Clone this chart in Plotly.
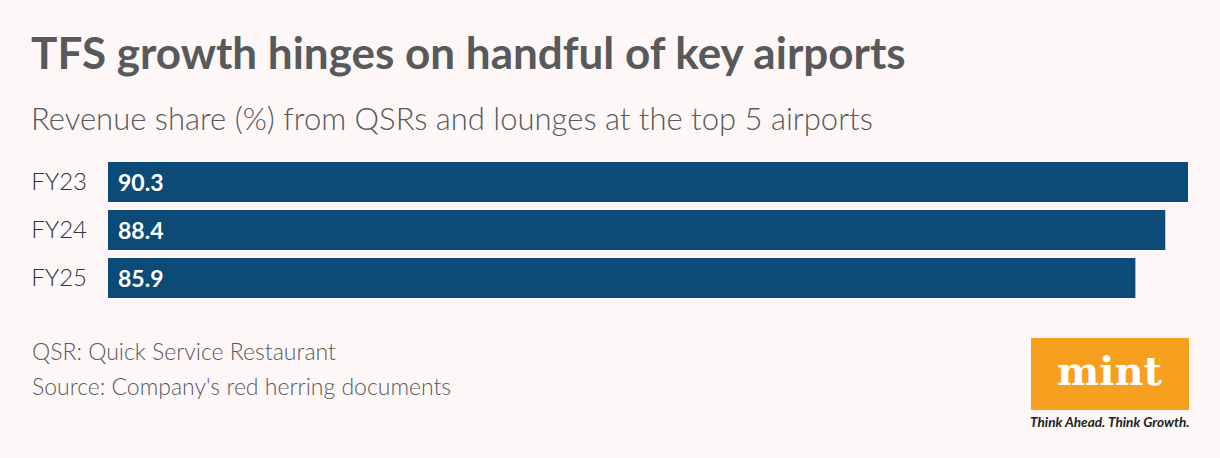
import plotly.graph_objects as go

categories = ["FY23", "FY24", "FY25"]
values = [90.3, 88.4, 85.9]
value_labels = ["90.3", "88.4", "85.9"]

title = "TFS growth hinges on handful of key airports"
subtitle = "Revenue share (%) from QSRs and lounges at the top 5 airports"
note1 = "QSR: Quick Service Restaurant"
note2 = "Source: Company's red herring documents"

W, H = 1220, 458
L, R, T, B = 108, 32, 158, 156
PW, PH = W - L - R, H - T - B

def px(x):
    return (x - L) / PW

def py(y):
    return (H - B - y) / PH

BG = "#fdf8f7"
BAR = "#0c4a78"
GREY = "#58595b"

fig = go.Figure()
fig.add_trace(go.Bar(
    x=values, y=categories, orientation="h",
    marker=dict(color=BAR, line=dict(width=0)),
    hoverinfo="skip",
))

ann = []
for c, v, lab in zip(categories, values, value_labels):
    ann.append(dict(x=0, y=c, xref="x", yref="y", text="<b>" + lab + "</b>",
                    showarrow=False, xanchor="left", yanchor="middle", xshift=8,
                    font=dict(family="Lato", size=23, color="white")))

ann += [
    dict(x=px(29), y=py(52), xref="paper", yref="paper", text="<b>" + title + "</b>",
         showarrow=False, xanchor="left", yanchor="middle",
         font=dict(family="Lato", size=44, color=GREY)),
    dict(x=px(29), y=py(118), xref="paper", yref="paper", text=subtitle,
         showarrow=False, xanchor="left", yanchor="middle",
         font=dict(family="Lato", size=31, color=GREY, weight=300)),
    dict(x=px(30), y=py(351), xref="paper", yref="paper", text=note1,
         showarrow=False, xanchor="left", yanchor="middle",
         font=dict(family="Lato", size=23, color=GREY, weight=300)),
    dict(x=px(30), y=py(386), xref="paper", yref="paper", text=note2,
         showarrow=False, xanchor="left", yanchor="middle",
         font=dict(family="Lato", size=23, color=GREY, weight=300)),
    dict(x=px(1110), y=py(370), xref="paper", yref="paper", text="<b>mint</b>",
         showarrow=False, xanchor="center", yanchor="middle",
         font=dict(family="DejaVu Serif", size=40, color="white")),
    dict(x=px(1110), y=py(422), xref="paper", yref="paper",
         text="<b><i>Think Ahead. Think Growth.</i></b>",
         showarrow=False, xanchor="center", yanchor="middle",
         font=dict(family="Lato", size=13.6, color="#222222")),
]

fig.update_layout(
    width=W, height=H,
    margin=dict(l=L, r=R, t=T, b=B, pad=0),
    paper_bgcolor=BG, plot_bgcolor=BG,
    bargap=8 / 48,
    showlegend=False,
    xaxis=dict(range=[0, 90.3], visible=False, fixedrange=True),
    yaxis=dict(autorange="reversed", showgrid=False, zeroline=False, showline=False,
               ticks="", ticklabelstandoff=20, fixedrange=True,
               tickfont=dict(family="Lato", size=24, color="#333333", weight=300)),
    annotations=ann,
    shapes=[dict(type="rect", xref="paper", yref="paper",
                 x0=px(1031), x1=px(1189), y0=py(338), y1=py(410),
                 fillcolor="#f7a01f", line=dict(width=0), layer="below")],
)

fig.write_html("out.html", config={"displayModeBar": False},
               post_script="document.body.style.margin='0';")
